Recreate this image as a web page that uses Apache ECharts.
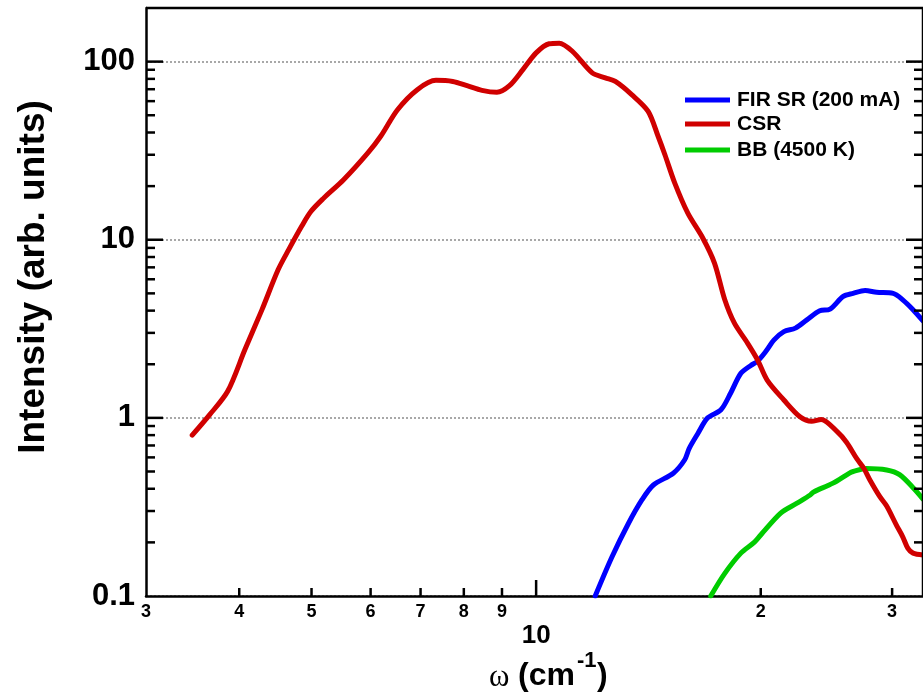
<!DOCTYPE html>
<html>
<head>
<meta charset="utf-8">
<script src="https://cdn.jsdelivr.net/npm/echarts@6/dist/echarts.min.js"></script>
<style>
  html, body { margin: 0; padding: 0; background: #fff; }
  #chart { width: 923px; height: 694px; }
</style>
</head>
<body>
<div id="chart"></div>
<script>
// Coherent synchrotron radiation spectrum (wavenumber in cm^-1, intensity in arb. units)
const csrX = [3.46, 3.65, 3.86, 4.07, 4.29, 4.51, 4.66, 4.85, 4.99, 5.19, 5.52, 5.95, 6.19, 6.52, 6.93, 7.34, 7.73, 8.08, 8.46, 8.86, 9.21, 9.6, 10.0, 10.41, 10.74, 11.19, 11.89, 12.38, 12.77, 13.43, 14.13, 14.57, 14.88, 15.34, 15.97, 16.73, 17.34, 17.9, 18.44, 19.2, 19.8, 20.4, 21.48, 22.6, 23.4, 24.1, 25.3, 26.06, 26.9, 27.5, 28.0, 28.9, 29.5, 30.4, 31.0, 31.5, 32.0, 33.0];
const csrY = [0.80, 1.04, 1.41, 2.41, 4.04, 6.78, 8.8, 11.9, 14.4, 17.1, 21.7, 30.7, 38.1, 53.7, 69.6, 78.5, 77.4, 73.3, 69.0, 67.3, 73.3, 90.2, 112, 126, 127, 114, 86.5, 81.1, 77.4, 65.3, 52.6, 38.1, 30.0, 20.8, 14.1, 10.2, 7.4, 4.6, 3.4, 2.63, 2.12, 1.63, 1.26, 1.01, 0.957, 0.98, 0.84, 0.73, 0.59, 0.52, 0.45, 0.36, 0.32, 0.25, 0.215, 0.185, 0.174, 0.17];

// Far-infrared synchrotron radiation at 200 mA
const firX = [12.0, 12.64, 13.30, 13.86, 14.36, 15.27, 15.81, 16.04, 16.48, 16.98, 17.69, 18.23, 18.81, 19.4, 19.8, 20.3, 20.84, 21.48, 22.26, 23.06, 24.0, 24.77, 25.8, 26.6, 27.6, 28.6, 30.1, 31.0, 32.0, 33.0];
const firY = [0.1, 0.166, 0.256, 0.346, 0.42, 0.489, 0.58, 0.675, 0.82, 1.0, 1.11, 1.38, 1.78, 1.97, 2.08, 2.35, 2.74, 3.05, 3.19, 3.55, 3.99, 4.08, 4.81, 5.0, 5.19, 5.07, 5.0, 4.6, 4.05, 3.5];

// Black body source at 4500 K
const bbX = [17.14, 17.9, 18.81, 19.6, 20.0, 21.27, 22.37, 23.3, 23.55, 25.0, 26.3, 26.6, 27.7, 29.5, 30.7, 32.1, 33.0];
const bbY = [0.1, 0.134, 0.174, 0.20, 0.22, 0.292, 0.332, 0.369, 0.384, 0.43, 0.49, 0.50, 0.52, 0.51, 0.48, 0.40, 0.35];

// Axis tick values and their labels
const xMinorTicks = [4, 5, 6, 7, 8, 9, 20, 30];
const xMajorTicks = [10];
const xSmallLabelValues = [3, 4, 5, 6, 7, 8, 9, 20, 30];
const xSmallLabelTexts = ['3', '4', '5', '6', '7', '8', '9', '2', '3'];
const xBigLabelValues = [10];
const xBigLabelTexts = ['10'];
const yDecades = [0.1, 1, 10, 100];
const yDecadeLabels = ['0.1', '1', '10', '100'];
const yMinorMultipliers = [2, 3, 4, 5, 6, 7, 8, 9];

const X_MIN = 3, X_MAX = 33, Y_MIN = 0.1, Y_MAX = 200;
const SANS = '"Liberation Sans", Arial, sans-serif';
const SERIF = '"Liberation Serif", "Times New Roman", serif';

const pairs = (xs, ys) => xs.map((x, i) => [x, ys[i]]);

const chart = echarts.init(document.getElementById('chart'), null, { renderer: 'canvas' });

function lineSeries(name, color, xs, ys, z) {
  return {
    name, type: 'line', data: pairs(xs, ys), showSymbol: false, symbol: 'none',
    smooth: 0.3, z,
    lineStyle: { color, width: 5, cap: 'round', join: 'round' },
    itemStyle: { color }
  };
}

function legendRow(name, top) {
  return {
    data: [name], left: 685, top, orient: 'horizontal', padding: 0,
    icon: 'rect', itemWidth: 45, itemHeight: 5, itemGap: 0,
    selectedMode: false,
    textStyle: { fontFamily: SANS, fontWeight: 'bold', fontSize: 21, color: '#000', lineHeight: 22, padding: [0, 0, 0, 2] }
  };
}

chart.setOption({
  animation: false,
  backgroundColor: '#fff',
  grid: { left: 146, top: 8, width: 782, height: 588, show: false },
  legend: [
    legendRow('FIR SR (200 mA)', 89),
    legendRow('CSR', 113),
    legendRow('BB (4500 K)', 139)
  ],
  xAxis: {
    type: 'log', logBase: 10, min: X_MIN, max: X_MAX,
    axisLine: { show: true, lineStyle: { color: '#000', width: 2.5 } },
    axisTick: { show: false }, axisLabel: { show: false },
    splitLine: { show: false }, minorTick: { show: false }
  },
  yAxis: {
    type: 'log', logBase: 10, min: Y_MIN, max: Y_MAX,
    axisLine: { show: true, lineStyle: { color: '#000', width: 2.5 } },
    axisTick: { show: false },
    axisLabel: {
      show: true, margin: 11, fontFamily: SANS, fontWeight: 'bold', fontSize: 31, color: '#000',
      formatter: (v) => {
        const i = yDecades.findIndex(d => Math.abs(Math.log10(v) - Math.log10(d)) < 1e-6);
        return i >= 0 ? yDecadeLabels[i] : '';
      }
    },
    splitLine: { show: true, lineStyle: { color: '#8c8c8c', width: 1.6, type: [2, 2] } }
  },
  series: [
    lineSeries('FIR SR (200 mA)', '#0000ff', firX, firY, 2),
    lineSeries('BB (4500 K)', '#00cc00', bbX, bbY, 2),
    lineSeries('CSR', '#d00000', csrX, csrY, 3)
  ]
});

// Frame, tick marks and x labels placed through the axis scales
const px = (x, y) => chart.convertToPixel({ gridIndex: 0 }, [x, y]);
const [gx0, gy0] = px(X_MIN, Y_MIN);
const [gx1, gy1] = px(X_MAX, Y_MAX);
const tickStyle = { stroke: '#000', lineWidth: 2.5 };
const els = [];

function tickLine(x1, y1, x2, y2) {
  els.push({ type: 'line', z: 50, shape: { x1, y1, x2, y2 }, style: tickStyle, silent: true });
}

// top and right edges of the frame
tickLine(gx0, gy1, gx1, gy1);
tickLine(gx1, gy1, gx1, gy0);

xMinorTicks.forEach(v => { const x = px(v, Y_MIN)[0]; tickLine(x, gy0, x, gy0 - 8); });
xMajorTicks.forEach(v => { const x = px(v, Y_MIN)[0]; tickLine(x, gy0, x, gy0 - 16); });

yDecades.forEach(d => {
  const y = px(X_MIN, d)[1];
  if (d > Y_MIN) {
    tickLine(gx0, y, gx0 + 17, y);
    tickLine(gx1, y, gx1 - 17, y);
  }
  yMinorMultipliers.forEach(m => {
    const v = d * m;
    if (v < Y_MAX) {
      const yy = px(X_MIN, v)[1];
      tickLine(gx0, yy, gx0 + 9, yy);
      tickLine(gx1, yy, gx1 - 9, yy);
    }
  });
});

xSmallLabelValues.forEach((v, i) => {
  const x = px(v, Y_MIN)[0];
  els.push({ type: 'text', z: 50, x, y: gy0 + 16, silent: true,
    style: { text: xSmallLabelTexts[i], font: 'bold 18px ' + SANS, fill: '#000', align: 'center', verticalAlign: 'middle' } });
});
xBigLabelValues.forEach((v, i) => {
  const x = px(v, Y_MIN)[0];
  els.push({ type: 'text', z: 50, x, y: gy0 + 40, silent: true,
    style: { text: xBigLabelTexts[i], font: 'bold 26px ' + SANS, fill: '#000', align: 'center', verticalAlign: 'middle' } });
});

// Axis titles
els.push({ type: 'text', z: 50, x: 34, y: 277, rotation: Math.PI / 2, silent: true,
  style: { text: 'Intensity (arb. units)', font: 'bold 37px ' + SANS, fill: '#000', align: 'center', verticalAlign: 'middle' } });

els.push({ type: 'text', z: 50, x: 489, y: 678, silent: true,
  style: { text: 'ω', font: '31px ' + SERIF, fill: '#000', align: 'left', verticalAlign: 'middle' } });
els.push({ type: 'text', z: 50, x: 518, y: 676, silent: true,
  style: { text: '(cm', font: 'bold 32px ' + SANS, fill: '#000', align: 'left', verticalAlign: 'middle' } });
els.push({ type: 'text', z: 50, x: 577, y: 661, silent: true,
  style: { text: '-1', font: 'bold 22px ' + SANS, fill: '#000', align: 'left', verticalAlign: 'middle' } });
els.push({ type: 'text', z: 50, x: 597, y: 676, silent: true,
  style: { text: ')', font: 'bold 32px ' + SANS, fill: '#000', align: 'left', verticalAlign: 'middle' } });

chart.setOption({ graphic: els });
</script>
</body>
</html>
